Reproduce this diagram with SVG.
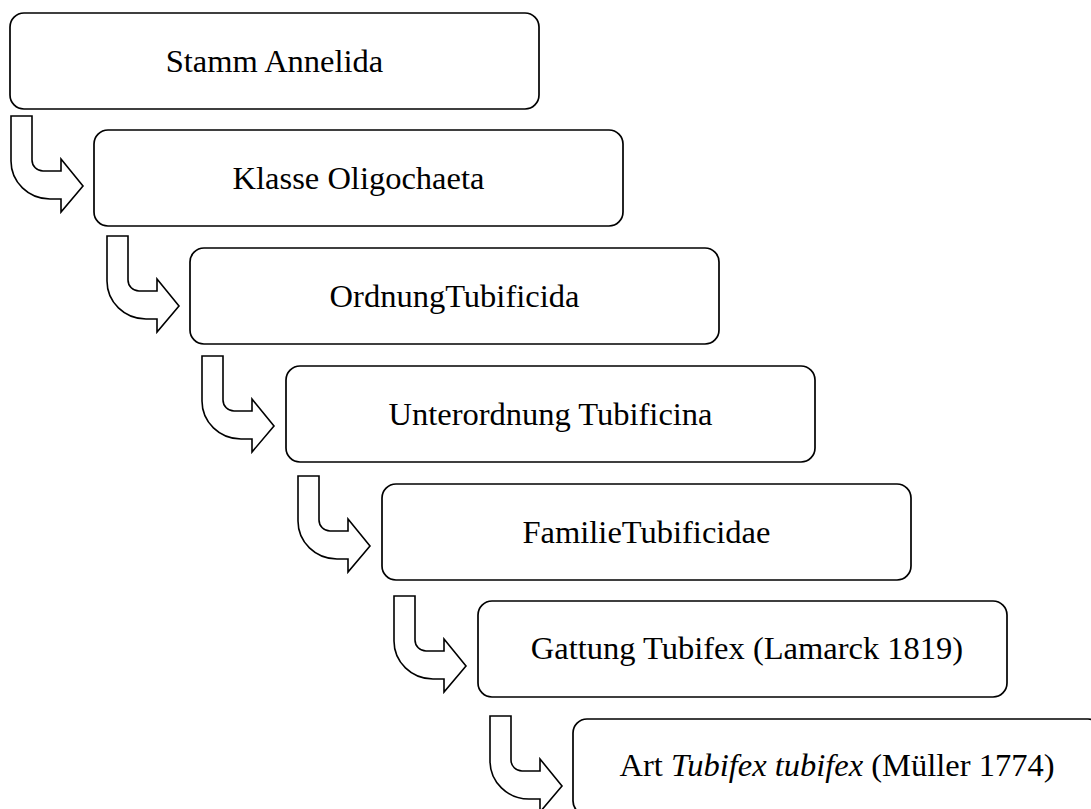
<svg xmlns="http://www.w3.org/2000/svg" width="1091" height="809" viewBox="0 0 1091 809">
<style>
.box{fill:#fff;stroke:#000;stroke-width:1.7}
.arr{fill:#fff;stroke:#000;stroke-width:1.6;stroke-linejoin:miter}
text{font-family:"Liberation Serif","Times New Roman",serif;font-size:32.5px;fill:#000;text-anchor:middle}
</style>
<defs>
<path id="bent" d="M0,0 H21 V44 A11,11 0 0 0 32,55 H50 V43 L72,70 L50,96 V83 H39 A39,38 0 0 1 0,45 Z"/>
</defs>
<rect width="1091" height="809" fill="#fff"/>
<g id="connectors">
<use href="#bent" class="arr" transform="translate(11,116)"/>
<use href="#bent" class="arr" transform="translate(107,236)"/>
<use href="#bent" class="arr" transform="translate(202,356)"/>
<use href="#bent" class="arr" transform="translate(298,476)"/>
<use href="#bent" class="arr" transform="translate(394,596)"/>
<use href="#bent" class="arr" transform="translate(490,716)"/>
</g>
<g id="n1"><rect class="box" x="10" y="13" width="529" height="96" rx="14"/><text x="274.5" y="72">Stamm Annelida</text></g>
<g id="n2"><rect class="box" x="94" y="130" width="529" height="96" rx="14"/><text x="358.5" y="189">Klasse Oligochaeta</text></g>
<g id="n3"><rect class="box" x="190" y="248" width="529" height="96" rx="14"/><text x="454.5" y="307">OrdnungTubificida</text></g>
<g id="n4"><rect class="box" x="286" y="366" width="529" height="96" rx="14"/><text x="550.5" y="425">Unterordnung Tubificina</text></g>
<g id="n5"><rect class="box" x="382" y="484" width="529" height="96" rx="14"/><text x="646.5" y="543">FamilieTubificidae</text></g>
<g id="n6"><rect class="box" x="478" y="601" width="529" height="96" rx="14"/><text x="747" y="659">Gattung Tubifex (Lamarck 1819)</text></g>
<g id="n7"><rect class="box" x="573" y="719" width="529" height="96" rx="14"/><text x="837" y="776">Art <tspan font-style="italic">Tubifex tubifex</tspan> (Müller 1774)</text></g>
</svg>
